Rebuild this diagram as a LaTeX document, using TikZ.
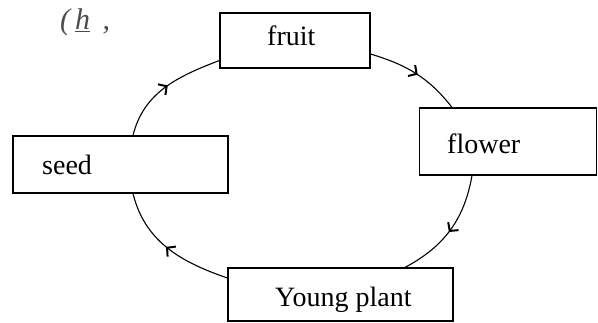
\documentclass[tikz,border=0pt]{standalone}
\usepackage{fontspec}
\setmainfont{Liberation Serif}
\usetikzlibrary{arrows.meta,decorations.markings}
\tikzset{
  stagebox/.style={draw=black, line width=1.2pt, fill=white, inner sep=0pt, anchor=center},
  stagetext/.style={font=\fontsize{28}{30}\selectfont, inner sep=0pt},
  cyclearc/.style={line width=1.1pt, black,
    decoration={markings, mark=at position 0.52 with {\arrow[line width=2pt]{Straight Barb[length=6pt,width=13pt]}}},
    postaction={decorate}},
}
\begin{document}
\begin{tikzpicture}[x=1pt,y=1pt]
\useasboundingbox (0,0) rectangle (598,322);
% boxes
\node[stagebox, minimum width=150pt, minimum height=55pt] (fruit) at (295,281.5) {};
\node[stagebox, minimum width=177pt, minimum height=67pt] (flower) at (508,180.5) {};
\node[stagebox, minimum width=215pt, minimum height=57pt] (seed) at (120.5,157.5) {};
\node[stagebox, minimum width=225pt, minimum height=53pt] (young) at (340.5,27.5) {};
% texts
\node[stagetext, anchor=base west] (tfruit) at (267,276) {fruit};
\node[stagetext, anchor=base west] (tflower) at (447,168) {flower};
\node[stagetext, anchor=base west] (tseed) at (42,147) {seed};
\node[stagetext, anchor=base west] (tyoung) at (275,16) {Young plant};
\node[font=\fontsize{30}{32}\selectfont\itshape, text=black!70, anchor=base west, inner sep=0pt] (lbl) at (60,292) {(\,\underline{h}\, ,};
% connectors
\draw[cyclearc] ([xshift=12.5pt]seed.north) to[out=76,in=201] ([yshift=-20pt]fruit.west);
\draw[cyclearc] ([yshift=-13.5pt]fruit.east) to[out=-17,in=128] ([xshift=-56pt]flower.north);
\draw[cyclearc] ([xshift=-36pt]flower.south) to[out=-100,in=28] ([xshift=64.5pt]young.north);
\draw[cyclearc] ([yshift=16.5pt]young.west) to[out=161,in=-76] ([xshift=12.5pt]seed.south);
\end{tikzpicture}
\end{document}
